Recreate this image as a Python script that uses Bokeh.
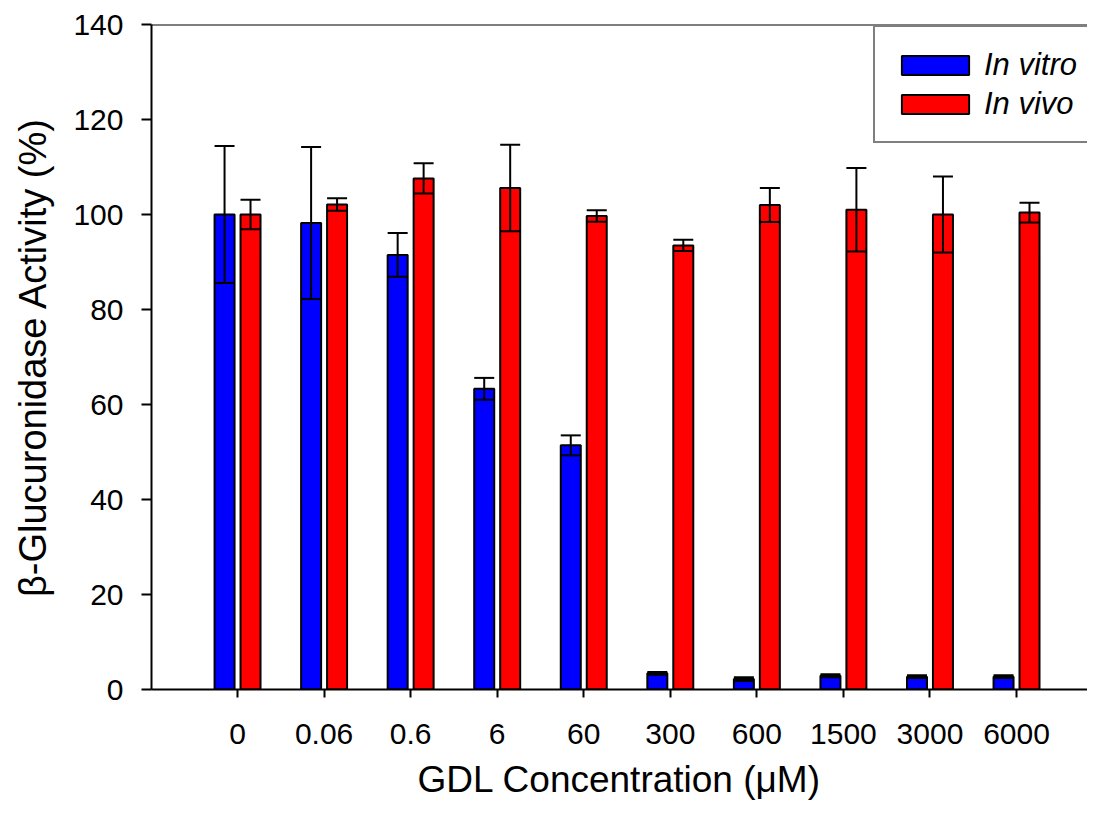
from bokeh.plotting import figure
from bokeh.models import Range1d, FixedTicker, Span, Legend, LegendItem
from bokeh.embed import file_html
from bokeh.resources import INLINE

categories = ["0", "0.06", "0.6", "6", "60", "300", "600", "1500", "3000", "6000"]
in_vitro = [100.0, 98.2, 91.5, 63.3, 51.4, 3.4, 2.2, 2.9, 2.7, 2.7]
in_vitro_err = [14.4, 16.0, 4.6, 2.3, 2.1, 0.3, 0.4, 0.3, 0.3, 0.3]
in_vivo = [100.0, 102.1, 107.6, 105.6, 99.7, 93.5, 102.0, 101.0, 100.0, 100.4]
in_vivo_err = [3.1, 1.3, 3.2, 9.1, 1.2, 1.2, 3.6, 8.8, 8.0, 2.1]
y_ticks = [0, 20, 40, 60, 80, 100, 120, 140]

FONT = "Liberation Sans"
BAR_W = 0.231
OFF = 0.150
CAP = 0.231

n = len(categories)
idx = list(range(n))
x_vitro = [i - OFF for i in idx]
x_vivo = [i + OFF for i in idx]

p = figure(width=1087, height=803, output_backend="svg", toolbar_location=None,
           x_range=Range1d(-0.994, 9.82), y_range=Range1d(0, 140),
           min_border_left=151, min_border_top=24, min_border_bottom=114,
           min_border_right=0)
p.outline_line_color = None
p.xgrid.visible = False
p.ygrid.visible = False
p.background_fill_color = "white"
p.border_fill_color = "white"

rb = p.vbar(x=x_vitro, top=in_vitro, width=BAR_W, bottom=0,
            fill_color="#0000FF", line_color="black", line_width=2)
rr = p.vbar(x=x_vivo, top=in_vivo, width=BAR_W, bottom=0,
            fill_color="#FF0000", line_color="black", line_width=2)

for xs, vals, errs in ((x_vitro, in_vitro, in_vitro_err), (x_vivo, in_vivo, in_vivo_err)):
    lo = [v - e for v, e in zip(vals, errs)]
    hi = [v + e for v, e in zip(vals, errs)]
    p.segment(x0=xs, y0=lo, x1=xs, y1=hi, line_color="black", line_width=2)
    p.segment(x0=[x - CAP / 2 for x in xs], y0=hi, x1=[x + CAP / 2 for x in xs], y1=hi,
              line_color="black", line_width=2)
    p.segment(x0=[x - CAP / 2 for x in xs], y0=lo, x1=[x + CAP / 2 for x in xs], y1=lo,
              line_color="black", line_width=2)

p.add_layout(Span(location=140, dimension="width", line_color="black", line_width=2))

# axes
p.xaxis.ticker = FixedTicker(ticks=idx)
p.xaxis.major_label_overrides = {i: c for i, c in enumerate(categories)}
p.yaxis.ticker = FixedTicker(ticks=y_ticks)
for ax in (p.xaxis[0], p.yaxis[0]):
    ax.axis_line_width = 2
    ax.axis_line_color = "black"
    ax.major_tick_line_width = 2
    ax.major_tick_line_color = "black"
    ax.major_tick_in = 0
    ax.minor_tick_line_color = None
    ax.major_label_text_font = FONT
    ax.major_label_text_font_size = "30px"
    ax.major_label_text_color = "black"
    ax.axis_label_text_font = FONT
    ax.axis_label_text_font_style = "normal"
    ax.axis_label_text_color = "black"
p.xaxis.axis_label_text_font_size = "37px"
p.yaxis.axis_label_text_font_size = "38px"
p.xaxis.major_tick_out = 8
p.yaxis.major_tick_out = 10
p.xaxis.major_label_standoff = 26
p.yaxis.major_label_standoff = 18
p.xaxis.axis_label = "GDL Concentration (\u03bcM)"
p.yaxis.axis_label = "\u03b2-Glucuronidase Activity (%)"
p.xaxis.axis_label_standoff = 12
p.yaxis.axis_label_standoff = 16

legend = Legend(items=[LegendItem(label="In vitro", renderers=[rb]),
                       LegendItem(label="In vivo", renderers=[rr])],
                location=(722, 546), padding=18, spacing=0, margin=0,
                glyph_width=84, glyph_height=24, label_standoff=7,
                label_width=120, label_height=39,
                label_text_font=FONT, label_text_font_size="31px",
                label_text_font_style="italic", label_text_color="black",
                border_line_color="black", border_line_width=2,
                background_fill_color="white", background_fill_alpha=1.0)
p.add_layout(legend)

open("out.html", "w").write(file_html(p, INLINE))
